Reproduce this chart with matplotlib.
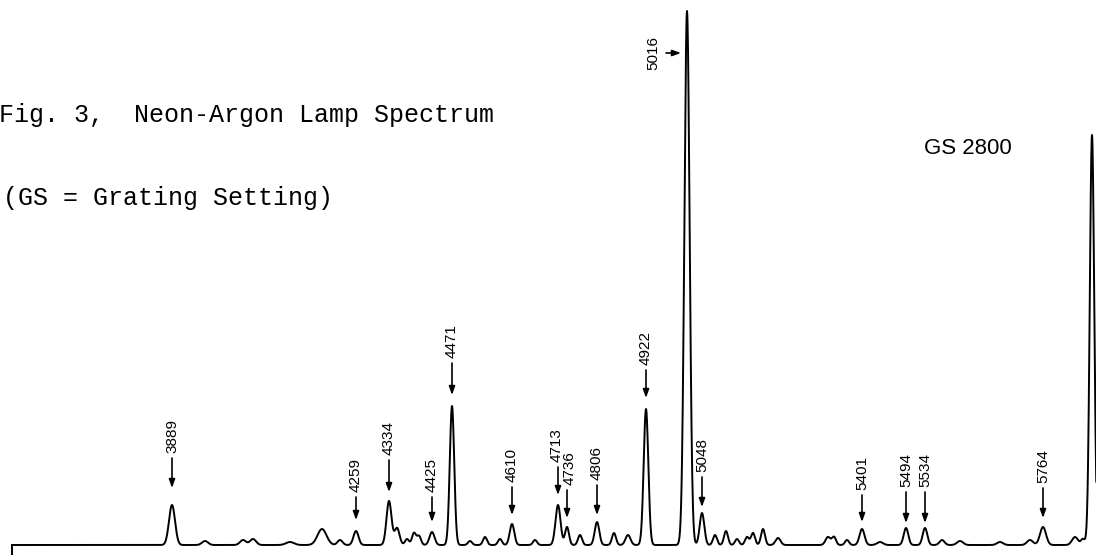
import matplotlib
matplotlib.use('Agg')
import matplotlib.pyplot as plt
import numpy as np

# spectrum trace (chart position in px, height above baseline in px, width in px)
peak_pos = [172, 205, 243, 253, 290, 322, 340, 356, 389, 397, 407, 414, 419, 432, 452,
            470, 485, 500, 512, 535, 558, 567, 580, 597, 614, 628, 646, 687, 702,
            715, 726, 737, 747, 753, 763, 778, 828, 834, 847, 862, 880, 906, 925,
            942, 960, 1000, 1030, 1043, 1075, 1083, 1092]
peak_height = [40, 4, 5, 6, 3, 16, 5, 14, 44, 17, 6, 12, 9, 13, 139,
               4, 8, 6, 21, 5, 40, 18, 10, 23, 12, 10, 136, 534, 32,
               10, 14, 6, 8, 12, 16, 7, 8, 8, 5, 16, 3, 17, 17,
               5, 4, 3, 5, 18, 8, 6, 410]
peak_width = [3.0, 3, 3, 3, 4, 4.5, 2.5, 2.5, 2.5, 2.5, 2, 2, 2, 2.5, 2.2,
              2, 2, 2, 2.3, 2, 2.5, 2, 2, 2.3, 2, 2.5, 2.3, 2.6, 2.3,
              2, 2, 2, 2, 2, 2, 2.5, 2.5, 2, 2, 2.5, 3, 2.3, 2.3,
              2.5, 3, 3, 3, 3, 3, 2, 2.2]

# identified lines (Angstrom) and where they sit on the trace
line_names = ['3889', '4259', '4334', '4425', '4471', '4610', '4713', '4736',
              '4806', '4922', '5048', '5401', '5494', '5534', '5764']
line_pos = [172, 356, 389, 432, 452, 512, 558, 567, 597, 646, 702, 862, 906, 925, 1043]
# arrow tip / tail (px from top), label nudge
arrow_tip = [488, 520, 492, 522, 395, 515, 495, 518, 515, 398, 507, 522, 523, 523, 518]
arrow_tail = [458, 497, 460, 497, 363, 487, 467, 490, 485, 370, 477, 495, 492, 492, 488]
label_dx = [0, 0, 0, 0, 0, 0, -1.5, 2.5, 0, 0, 0, 0, 0, 0, 0]

W, H = 1096, 555
base = 10.0

def v(ypx):
    return H - ypx

fig = plt.figure(figsize=(10.96, 5.55), dpi=100)
ax = fig.add_axes([0, 0, 1, 1])
ax.set_xlim(0, W)
ax.set_ylim(0, H)
ax.axis('off')

x = np.arange(12, W + 1, 0.25)
y = np.full_like(x, base)
for c, h, s in zip(peak_pos, peak_height, peak_width):
    y += h * np.exp(-0.5 * ((x - c) / s) ** 2)
ax.plot(x, y, color='black', lw=1.4, solid_joinstyle='round')
ax.plot([12, 12], [0, base], color='black', lw=1.4)

for name, px, tip, tail, dx in zip(line_names, line_pos, arrow_tip, arrow_tail, label_dx):
    ax.annotate('', xy=(px, v(tip)), xytext=(px, v(tail)),
                arrowprops=dict(arrowstyle='-|>,head_length=0.5,head_width=0.18',
                                color='black', lw=1.2, shrinkA=0, shrinkB=0))
    ax.text(px + dx, v(tail) + 5, name, rotation=90, ha='center', va='bottom',
            fontsize=11, family='Liberation Sans')

# 5016 - label beside the strong line
ax.annotate('', xy=(681, v(53)), xytext=(666, v(53)),
            arrowprops=dict(arrowstyle='-|>,head_length=0.5,head_width=0.18',
                            color='black', lw=1.2, shrinkA=0, shrinkB=0))
ax.text(653, v(53), '5016', rotation=90, ha='center', va='center',
        fontsize=11, family='Liberation Sans')

ax.text(968, v(148), 'GS 2800', ha='center', va='center', fontsize=16,
        family='Liberation Sans')

ax.text(-1, v(115), 'Fig. 3,  Neon-Argon Lamp Spectrum', ha='left', va='center',
        fontsize=18, family='Liberation Mono')
ax.text(3, v(198), '(GS = Grating Setting)', ha='left', va='center',
        fontsize=18, family='Liberation Mono')
# page number, mostly cut off by the scan
ax.text(700, v(-10), '17', ha='center', va='center', fontsize=18,
        family='Liberation Mono')

fig.savefig('out.png', dpi=100)
